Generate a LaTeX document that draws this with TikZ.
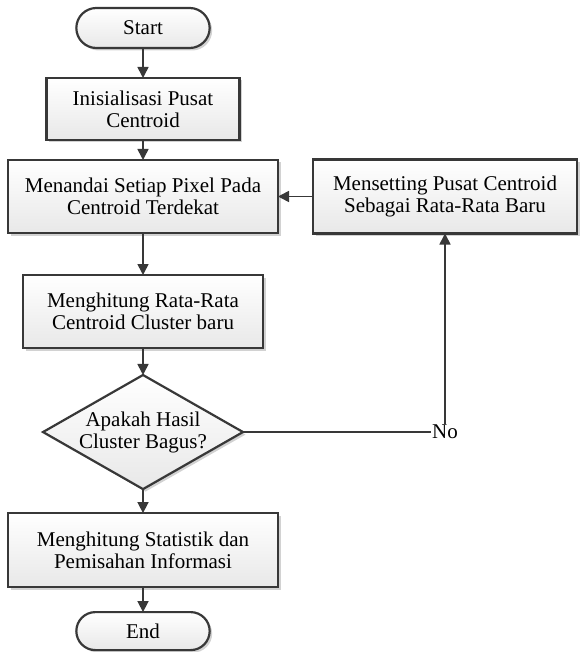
\documentclass[tikz,border=0pt]{standalone}
\usepackage{fontspec}
\setmainfont{Liberation Serif}
\usetikzlibrary{positioning,shapes.geometric,shapes.misc,shadows,arrows.meta}
\definecolor{edge}{HTML}{383838}

\begin{document}
\begin{tikzpicture}[
    font=\fontsize{21}{22}\selectfont,
    base/.style={
      draw=edge, line width=2.2pt, align=center, outer sep=0pt,
      top color=white, bottom color=black!9,
      drop shadow={shadow xshift=2.5pt, shadow yshift=-2.5pt,
        fill=black!35, opacity=0.5}
    },
    term/.style={base, rounded rectangle, minimum width=140pt, minimum height=40pt},
    proc/.style={base, rectangle},
    decision/.style={base, diamond, aspect=1.75, inner sep=0pt,
      minimum width=200pt, minimum height=114pt},
    arrow/.style={-{Triangle[length=11pt,width=11pt]}, draw=edge, line width=1.6pt},
    line/.style={draw=edge, line width=1.6pt},
  ]
  \useasboundingbox (0,0) rectangle (579pt,-652pt);

  %% Nodes
  \node[term] (start) at (143pt,-28pt) {Start};
  \node[proc, minimum width=193pt, minimum height=62pt, below=30pt of start] (init)
    {Inisialisasi Pusat\\Centroid};
  \node[proc, minimum width=270pt, minimum height=73pt, below=20pt of init] (tandai)
    {Menandai Setiap Pixel Pada\\Centroid Terdekat};
  \node[proc, minimum width=240pt, minimum height=73pt, below=42pt of tandai] (rata)
    {Menghitung Rata-Rata\\Centroid Cluster baru};
  \node[decision, below=27pt of rata] (cek) {Apakah Hasil\\Cluster Bagus?};
  \node[proc, minimum width=270pt, minimum height=74pt, below=24pt of cek] (stat)
    {Menghitung Statistik dan\\Pemisahan Informasi};
  \node[term, minimum height=38pt, below=25pt of stat] (end) {End};

  %% Loop back
  \node[proc, minimum width=264pt, minimum height=74pt, right=35pt of tandai] (setting)
    {Mensetting Pusat Centroid\\Sebagai Rata-Rata Baru};
  \node[inner sep=1pt] (no) at (cek -| setting) {No};

  %% Arrows
  \draw[arrow] (start) -- (init);
  \draw[arrow] (init) -- (tandai);
  \draw[arrow] (tandai) -- (rata);
  \draw[arrow] (rata) -- (cek);
  \draw[arrow] (cek) -- (stat);
  \draw[arrow] (stat) -- (end);
  \draw[line] (cek.east) -- (no.west);
  \draw[arrow] (no.north) -- (setting.south);
  \draw[arrow] (setting.west) -- (tandai.east);

\end{tikzpicture}
\end{document}
